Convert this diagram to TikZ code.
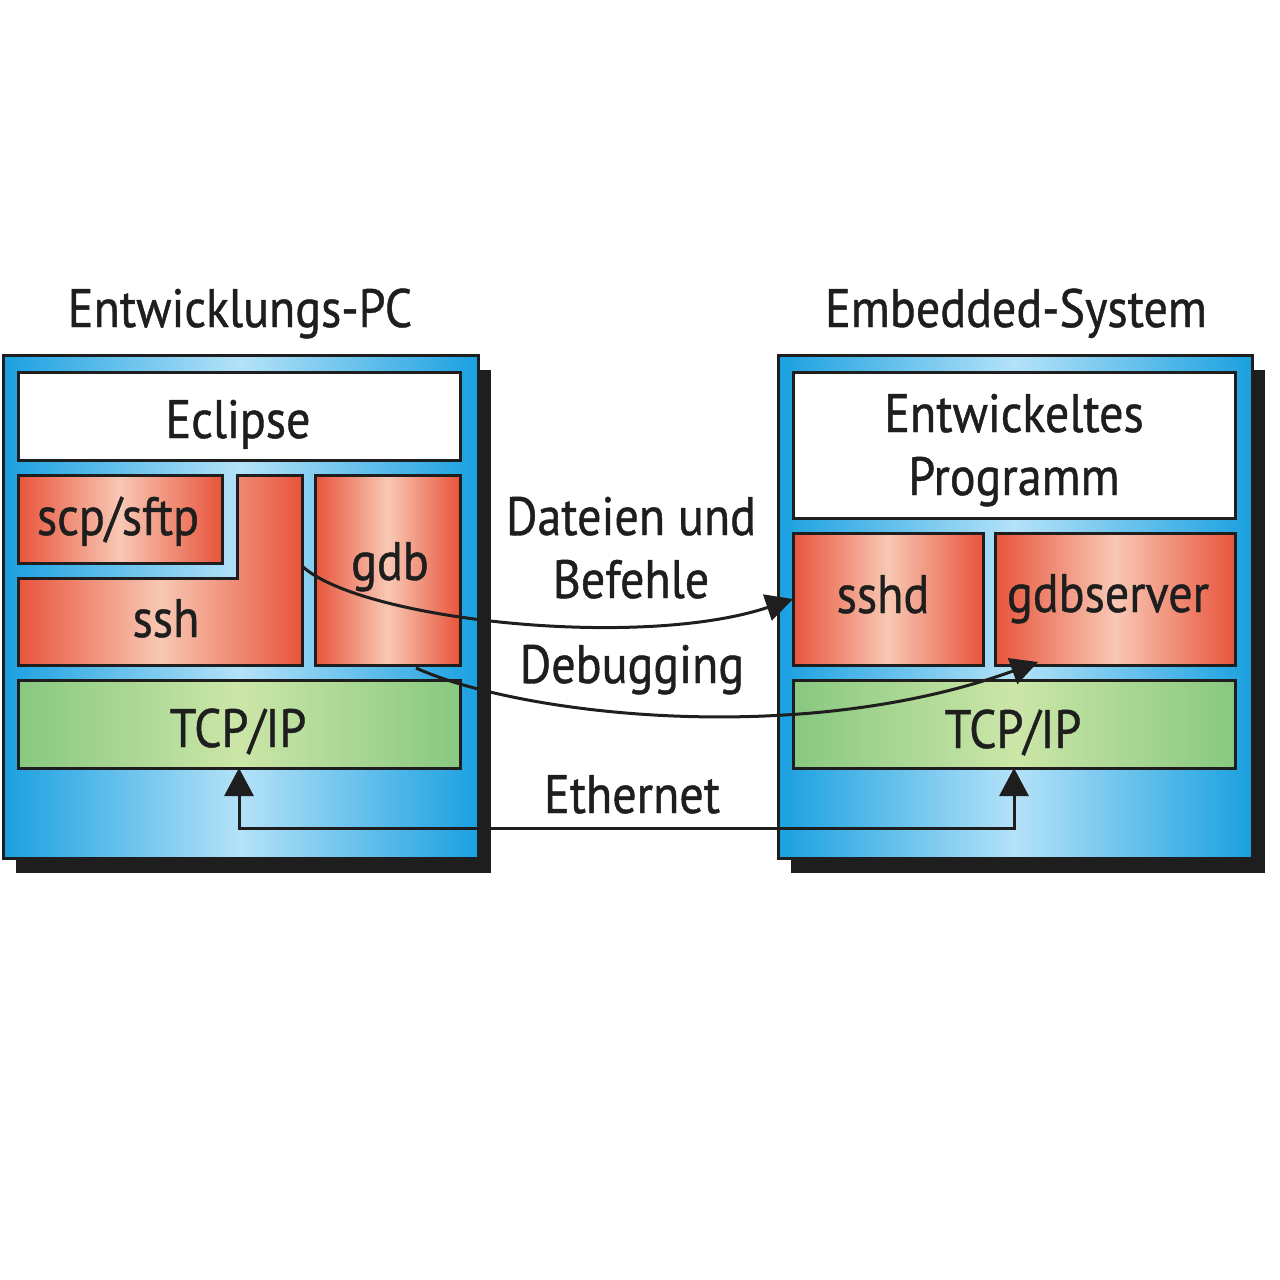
\documentclass[tikz,border=0pt]{standalone}
\usepackage{fontspec}
\setmainfont{PT Sans}[FakeStretch=0.89,FakeBold=0.8]
\usetikzlibrary{arrows.meta,calc}
\definecolor{blueE}{HTML}{1AA0E0}
\definecolor{blueM}{HTML}{B4E2F8}
\definecolor{redE}{HTML}{E8543C}
\definecolor{redM}{HTML}{F8C8B4}
\definecolor{greenE}{HTML}{88C880}
\definecolor{greenM}{HTML}{CCE6A8}
\definecolor{ink}{HTML}{1E1E1E}
\tikzset{
  every node/.style={font=\fontsize{54}{63}\selectfont, text=ink},
  box/.style={draw=ink, line width=3pt, rectangle, inner sep=0pt, outer sep=0pt, anchor=north west},
  outerbox/.style={box, left color=blueE, right color=blueE, middle color=blueM},
  redbox/.style={box, left color=redE, right color=redE, middle color=redM},
  greenbox/.style={box, left color=greenE, right color=greenE, middle color=greenM},
  whitebox/.style={box, fill=white},
  shadowbox/.style={rectangle, fill=ink, inner sep=0pt, outer sep=0pt, anchor=north west},
  arr/.style={draw=ink, line width=3pt, -{Triangle[length=27pt,width=27pt]}},
  biarr/.style={draw=ink, line width=3pt, {Triangle[length=28pt,width=29pt]}-{Triangle[length=28pt,width=29pt]}},
  lbl/.style={inner sep=0pt, outer sep=0pt, anchor=base, align=center}
}
\begin{document}
\begin{tikzpicture}[x=1pt,y=-1pt]
\useasboundingbox (0,0) rectangle (1280,1280);
% titles
\node[lbl] (tPC) at (240,327) {Entwicklungs-PC};
\node[lbl] (tES) at (1016,327) {Embedded-System};
% shadows
\node[shadowbox, minimum width=475pt, minimum height=503pt] (shL) at (16,370) {};
\node[shadowbox, minimum width=474pt, minimum height=503pt] (shR) at (791,370) {};
% outer boxes
\node[outerbox, minimum width=475pt, minimum height=503pt] (pc) at (3,355) {};
\node[outerbox, minimum width=474pt, minimum height=503pt] (es) at (778,355) {};
% left inner boxes
\node[whitebox, minimum width=442pt, minimum height=88pt] (eclipse) at (18,372) {};
\node[redbox, minimum width=204pt, minimum height=88pt] (scp) at (18,475) {};
\path[draw=ink, line width=3pt, left color=redE, right color=redE, middle color=redM]
  (237,475) -- (302,475) -- (302,665) -- (18,665) -- (18,578) -- (237,578) -- cycle;
\node[redbox, minimum width=145pt, minimum height=190pt] (gdb) at (315,475) {};
\node[greenbox, minimum width=442pt, minimum height=88pt] (tcpL) at (18,680) {};
% right inner boxes
\node[whitebox, minimum width=442pt, minimum height=146pt] (prog) at (793,372) {};
\node[redbox, minimum width=190pt, minimum height=132pt] (sshd) at (793,533) {};
\node[redbox, minimum width=240pt, minimum height=132pt] (gdbs) at (995,533) {};
\node[greenbox, minimum width=442pt, minimum height=88pt] (tcpR) at (793,680) {};
% box texts
\node[lbl] (teclipse) at (238,438) {Eclipse};
\node[lbl] (tscp) at (118,535) {scp/sftp};
\node[lbl] (tssh) at (166,637) {ssh};
\node[lbl] (tgdb) at (390,580) {gdb};
\node[lbl] (ttcpL) at (238,747) {TCP/IP};
\node[lbl] (tprog) at (1014,495) {Entwickeltes\\Programm};
\node[lbl] (tsshd) at (883,613) {sshd};
\node[lbl] (tgdbs) at (1108,612) {gdbserver};
\node[lbl] (ttcpR) at (1013,748) {TCP/IP};
% connector labels
\node[lbl] (dat) at (631,598) {Dateien und\\Befehle};
\node[lbl] (dbg) at (632,683) {Debugging};
\node[lbl] (eth) at (632,813) {Ethernet};
% connectors
\coordinate (sshA) at (302,566);
\coordinate (gdbA) at (416,668);
\coordinate (gdbsB) at (1038,662);
\draw[arr] (sshA) .. controls (360,620) and (640,650) .. (sshd.west);
\draw[arr] (gdbA) .. controls (520,715) and (800,748) .. (gdbsB);
\draw[biarr] (tcpL.south) -- ++(0,60) -| (tcpR.south);
\end{tikzpicture}
\end{document}
